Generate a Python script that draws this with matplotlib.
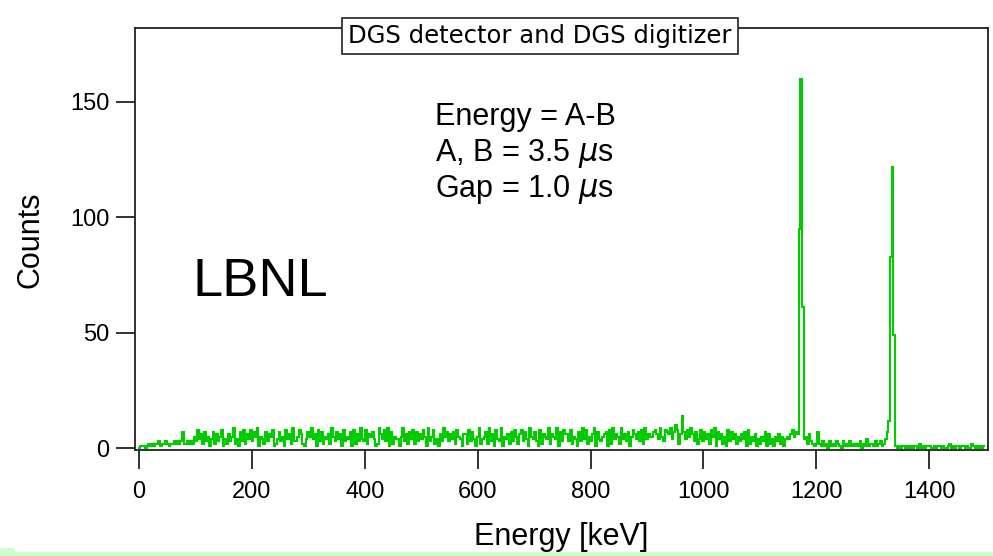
import numpy as np
import matplotlib
matplotlib.use("Agg")
import matplotlib.pyplot as plt
from matplotlib.patches import Rectangle

# ---------------- data ----------------
channel_kev = 3  # channel width in keV (channel i centred at i*3 keV)

# background counts per channel, hex digits, groups of 10 channels
background_hex = (
    # 0 - 99 keV
    "0111012121 2231223212 2323237223 232"
    # 99 - 1167 keV
    "5384627351 4726358142 6359241738 2648375915 4273658124 "
    "7351846293 3586214759 4618372546 2953746183 5471826394 "
    "3826574129 6483917254 4159362748 2736485193 5824163957 "
    "3647285416 6283741592 4572936184 3915462738 5268374195 "
    "4731826549 2654917386 6382541739 4825369174 3567182946 "
    "5294637158 6473829465 5786495387 6947a826e7 4859637248 "
    "3746285917 4625183746 2536471825 3614253716 2415362514 "
    "5468576"
    # 1170 - 1176 keV (photopeak, see below)
    "000"
    # 1179 - 1329 keV
    "4526321272 1312031213 2103121312 1213021412 2131231247 c"
    # 1332 - 1338 keV (photopeak, see below)
    "000"
    # 1341 - 1497 keV
    "1010110101 0110201011 1001011010 0120101101 1010021010 101"
)

peak_energy = [1170, 1173, 1176, 1332, 1335, 1338]
peak_counts = [95, 160, 61, 83, 122, 49]

x_ticks = [0, 200, 400, 600, 800, 1000, 1200, 1400]
y_ticks = [0, 50, 100, 150]

title_text = "DGS detector and DGS digitizer"
info_lines = ["Energy = A-B", "A, B = 3.5 $\\mu$s", "Gap = 1.0 $\\mu$s"]

# ---------------- build spectrum ----------------
counts = np.array([int(c, 16) for c in background_hex if c != " "], dtype=float)
for e, c in zip(peak_energy, peak_counts):
    counts[int(round(e / channel_kev))] = c
energy = np.arange(len(counts)) * channel_kev

# ---------------- figure ----------------
plt.rcParams["font.family"] = ["Liberation Sans", "DejaVu Sans"]
plt.rcParams["mathtext.fontset"] = "dejavusans"

W, H = 993, 556
fig = plt.figure(figsize=(W / 100, H / 100), dpi=100)
fig.patch.set_facecolor("white")

# slide background strip at the bottom
fig.patches.append(Rectangle((0, 0), 1, 4 / H, transform=fig.transFigure,
                             facecolor="#ccffcc", edgecolor="none", zorder=0))
fig.patches.append(Rectangle((0, 0), 14 / W, 8 / H, transform=fig.transFigure,
                             facecolor="#ccffcc", edgecolor="none", zorder=0))

left, right, top, bottom = 135, 988, 28, 449.5
ax = fig.add_axes([left / W, 1 - bottom / H, (right - left) / W, (bottom - top) / H])

ax.plot(energy, counts, color="#00cc00", lw=1.5, drawstyle="steps-mid",
        solid_joinstyle="miter")

ax.set_xlim(-7, 1504)
ax.set_ylim(-0.5, 182)
ax.set_xticks(x_ticks)
ax.set_yticks(y_ticks)
ax.tick_params(axis="both", direction="out", length=13.5, width=1.3,
               labelsize=17, color="#222222")
ax.tick_params(axis="x", pad=9)
ax.tick_params(axis="y", pad=5)
for s in ax.spines.values():
    s.set_linewidth(1.3)
    s.set_color("#222222")

fig.text(30 / W, 1 - 240 / H, "Counts", rotation=90, ha="center", va="center",
         fontsize=22)
fig.text(561 / W, 1 - 537 / H, "Energy [keV]", ha="center", va="center",
         fontsize=22)

ax.text(0.475, 0.981, title_text, transform=ax.transAxes, ha="center",
        va="center", fontsize=17.5, family=["DejaVu Sans"],
        bbox=dict(boxstyle="square,pad=0.25", facecolor="white",
                  edgecolor="#222222", linewidth=1.2))

for k, line in enumerate(info_lines):
    ax.text(524, 140 - k * 15.6, line, ha="left", va="baseline", fontsize=22)

ax.text(94, 66, "LBNL", ha="left", va="baseline", fontsize=39)

fig.savefig("out.png", dpi=100)
